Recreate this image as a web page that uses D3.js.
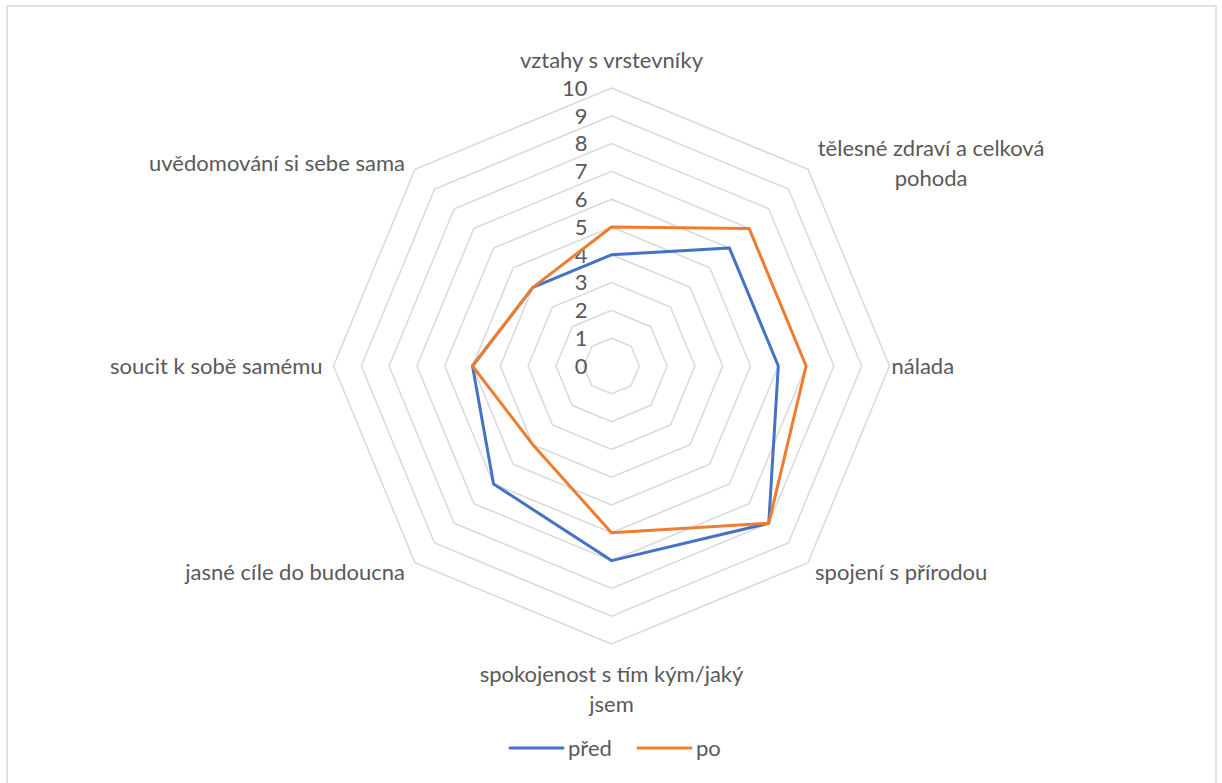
<!DOCTYPE html>
<html>
<head>
<meta charset="utf-8">
<script src="https://cdn.jsdelivr.net/npm/d3@7"></script>
<style>
  body { margin: 0; background: #fff; }
  svg text { font-family: Lato, "Open Sans", sans-serif; fill: #595959; }
</style>
</head>
<body>
<div id="chart"></div>
<script>
// axis labels (lines split as in the picture)
const categories = [
  ["vztahy s vrstevníky"],
  ["tělesné zdraví a celková", "pohoda"],
  ["nálada"],
  ["spojení s přírodou"],
  ["spokojenost s tím kým/jaký", "jsem"],
  ["jasné cíle do budoucna"],
  ["soucit k sobě samému"],
  ["uvědomování si sebe sama"]
];
const seriesNames = ["před", "po"];
const pred = [4, 6, 6, 8, 7, 6, 5, 4];
const po = [5, 7, 7, 8, 6, 4, 5, 4];
const ticks = [0, 1, 2, 3, 4, 5, 6, 7, 8, 9, 10];
const colors = ["#4472c4", "#ed7d31"];

const W = 1222, H = 783;
const cx = 611.5, cy = 366, R = 278;
const fontSize = 22;

const svg = d3.select('#chart').append('svg')
  .attr('width', W).attr('height', H);

// chart frame
svg.append('rect')
  .attr('x', 7).attr('y', 6)
  .attr('width', 1209).attr('height', 800)
  .attr('fill', 'none').attr('stroke', '#d9d9d9').attr('stroke-width', 1.5);

const r = d3.scaleLinear().domain([0, 10]).range([0, R]);
const angle = d3.scalePoint().domain(d3.range(categories.length))
  .range([0, 2 * Math.PI * (categories.length - 1) / categories.length]);

function pt(i, v) {
  const a = angle(i);
  return [cx + r(v) * Math.sin(a), cy - r(v) * Math.cos(a)];
}

const g = svg.append('g');

// grid polygons
const gridLine = d3.line().curve(d3.curveLinearClosed);
g.selectAll('.grid').data(ticks).enter().append('path')
  .attr('class', 'grid')
  .attr('d', t => gridLine(categories.map((c, i) => pt(i, t))))
  .attr('fill', 'none').attr('stroke', '#d9d9d9').attr('stroke-width', 1.5);

// tick labels
g.selectAll('.tick').data(ticks).enter().append('text')
  .attr('x', cx - 24).attr('y', t => cy - r(t))
  .attr('dy', '0.35em')
  .attr('text-anchor', 'end')
  .attr('font-size', fontSize)
  .text(d => d);

// category labels: offset from the outer vertex, Excel-like placement
const labelOffset = [
  { dx: 0, dy: -28, anchor: 'middle' },
  { dx: 123, dy: -21, anchor: 'middle' },
  { dx: 2, dy: 0, anchor: 'start' },
  { dx: 7, dy: 10, anchor: 'start' },
  { dx: 0, dy: 30, anchor: 'middle' },
  { dx: -10, dy: 10, anchor: 'end' },
  { dx: -11, dy: 0, anchor: 'end' },
  { dx: -10, dy: -6, anchor: 'end' }
];
const lh = 30;
categories.forEach((lines, i) => {
  const [x, y] = pt(i, 10);
  const o = labelOffset[i];
  const t = g.append('text')
    .attr('text-anchor', o.anchor)
    .attr('font-size', fontSize);
  lines.forEach((ln, k) => {
    t.append('tspan').attr('x', x + o.dx).attr('y', y + o.dy + k * lh)
      .attr('dy', '0.35em').text(ln);
  });
});

// series
const seriesLine = d3.line().curve(d3.curveLinearClosed);
[pred, po].forEach((vals, si) => {
  g.append('path')
    .attr('d', seriesLine(vals.map((v, i) => pt(i, v))))
    .attr('fill', 'none')
    .attr('stroke', colors[si])
    .attr('stroke-width', 3)
    .attr('stroke-linejoin', 'round');
});

// legend
const legendX = [510, 638];
seriesNames.forEach((name, si) => {
  const lg = svg.append('g').attr('transform', 'translate(' + legendX[si] + ',748)');
  lg.append('line').attr('x1', 0).attr('x2', 53).attr('y1', 0).attr('y2', 0)
    .attr('stroke', colors[si]).attr('stroke-width', 3).attr('stroke-linecap', 'round');
  lg.append('text').attr('x', 58).attr('dy', '0.35em')
    .attr('font-size', fontSize).text(name);
});
</script>
</body>
</html>
